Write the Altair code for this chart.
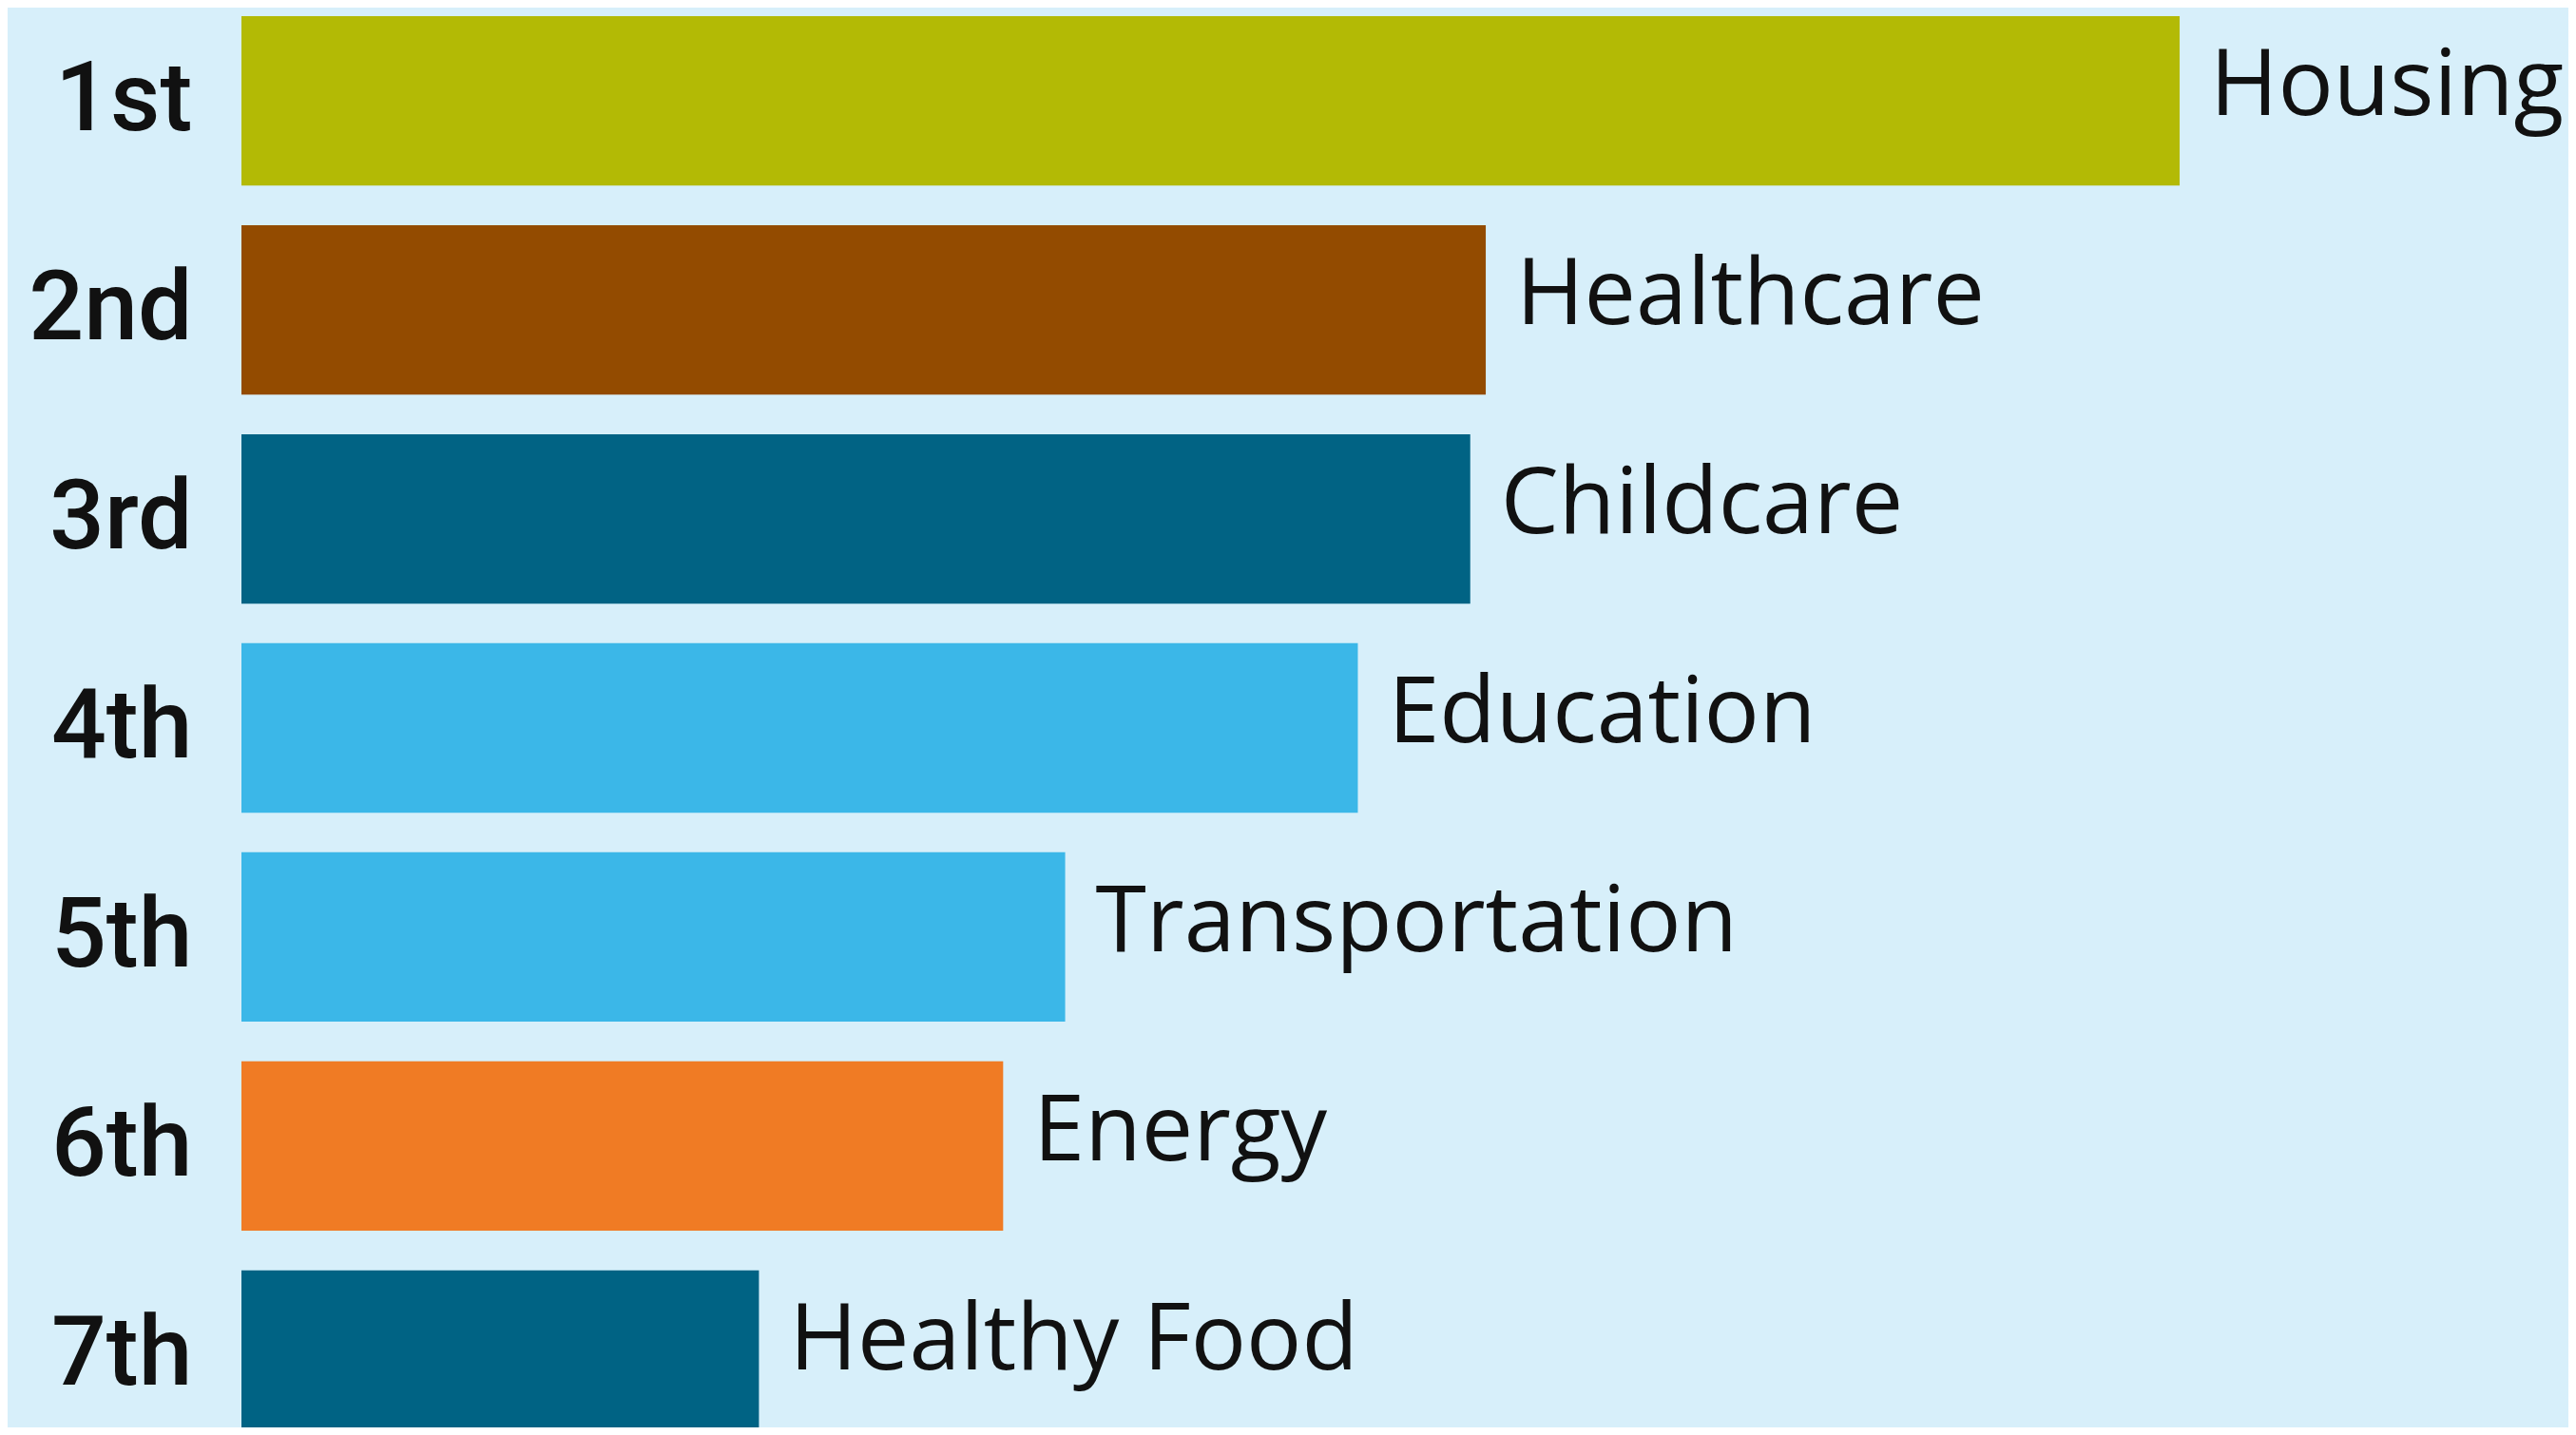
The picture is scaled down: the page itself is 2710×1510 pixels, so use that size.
import altair as alt
import pandas as pd

ranks = ["1st", "2nd", "3rd", "4th", "5th", "6th", "7th"]
categories = ["Housing", "Healthcare", "Childcare", "Education",
              "Transportation", "Energy", "Healthy Food"]
values = [100.0, 64.2, 63.4, 57.6, 42.5, 39.3, 26.7]
colors = ["#B3BA05", "#934B00", "#016384", "#3BB7E8",
          "#3BB7E8", "#F07B24", "#006384"]

df = pd.DataFrame({"rank": ranks, "category": categories, "value": values})

x = alt.X("value:Q", scale=alt.Scale(domain=[0, 100], nice=False, zero=True), axis=None)
y = alt.Y(
    "rank:N",
    sort=ranks,
    scale=alt.Scale(range=[0, 1498], paddingInner=0.189, paddingOuter=0),
    axis=alt.Axis(
        title=None, domain=False, ticks=False, tickSize=0, grid=False,
        labelPadding=52, labelFont="Roboto", labelFontSize=102,
        labelFontWeight=500, labelColor="#111111", labelLimit=500,
    ),
)

bars = alt.Chart(df).mark_bar(clip=True).encode(
    x=x,
    y=y,
    color=alt.Color("category:N", scale=alt.Scale(domain=categories, range=colors), legend=None),
)

labels = alt.Chart(df).mark_text(
    align="left", baseline="alphabetic", dx=32, dy=15,
    font="Open Sans", fontSize=97, color="#111111",
).encode(x=x, y=y, text="category:N")

chart = alt.layer(bars, labels).properties(
    width=2039,
    height=1485,
    background="#D7EFFA",
    padding={"left": 246, "right": 409, "top": 9, "bottom": 0},
    autosize=alt.AutoSizeParams(type="none"),
).configure_view(stroke=None)

chart.save("out.html", embed_options={"renderer": "svg", "actions": False})
